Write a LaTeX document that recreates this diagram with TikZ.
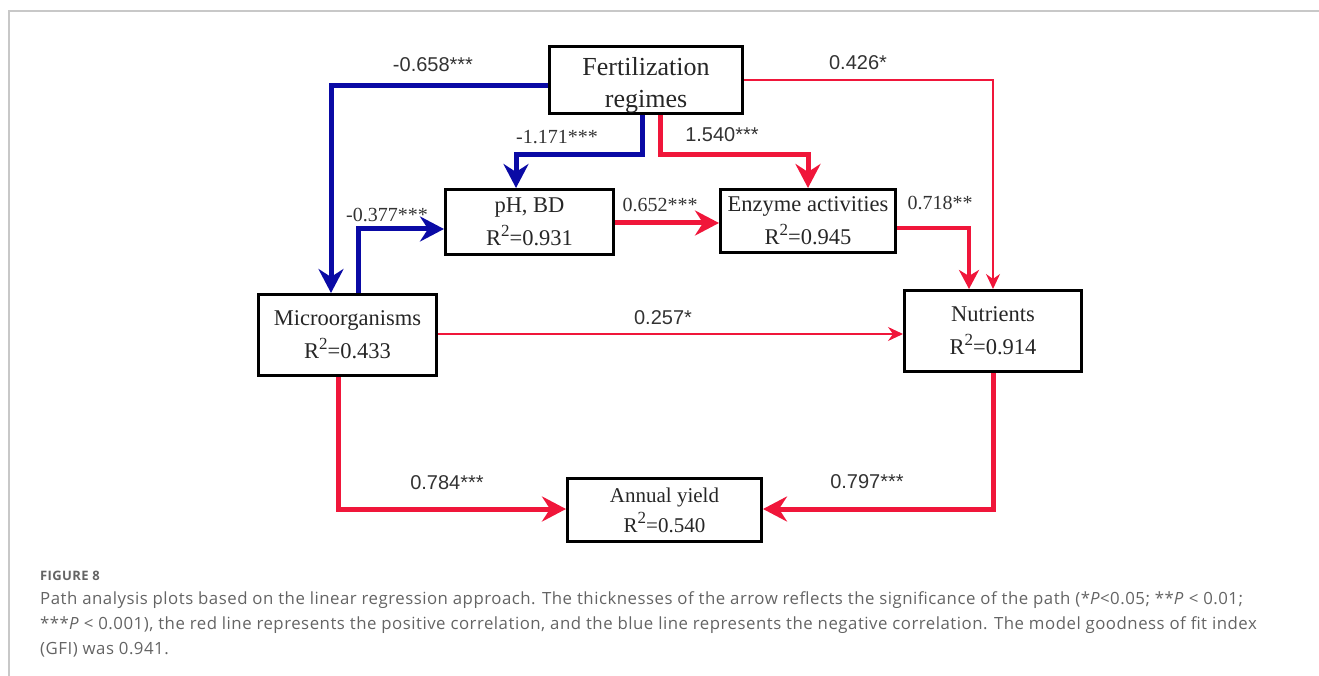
\documentclass[tikz,border=0pt]{standalone}
\usepackage{fontspec}
\setmainfont{Liberation Serif}
\setsansfont{Liberation Sans}
\newfontfamily\capfont[LetterSpace=3]{Open Sans}
\usetikzlibrary{arrows.meta}
\definecolor{negblue}{RGB}{10,10,165}
\definecolor{posred}{RGB}{240,22,58}
\definecolor{framegray}{RGB}{200,200,200}
\definecolor{capgray}{RGB}{100,100,100}
\newcommand{\Rsq}[1]{R\raisebox{0.42em}{\fontsize{17pt}{17pt}\selectfont 2}=#1}

\begin{document}
\begin{tikzpicture}[x=1pt,y=-1pt]
  \tikzset{box/.style={draw,line width=3pt,align=center,inner sep=0pt,text=black!85,
      font={\fontsize{22.5pt}{33pt}\selectfont}},
    coef/.style={font={\sffamily\fontsize{20pt}{20pt}\selectfont},text=black!80},
    scoef/.style={font={\fontsize{20pt}{20pt}\selectfont},text=black!80},
    strongarr/.style={line width=5pt,-{Stealth[length=24pt,width=25pt,inset=8pt]}},
    midarr/.style={line width=3.5pt,-{Stealth[length=19pt,width=20pt,inset=6pt]}},
    weakarr/.style={line width=1.6pt,-{Stealth[length=15pt,width=14pt,inset=5pt]}},
    captext/.style={anchor=west,text=capgray,inner sep=0pt,font={\capfont\fontsize{16.8pt}{20pt}\selectfont}}}
  \useasboundingbox (0,0) rectangle (1319,676);
  \draw[framegray,line width=1.5pt] (9,676) -- (9,11) -- (1319,11);
  % boxes
  \node[box,minimum width=193pt,minimum height=61pt,font={\fontsize{26pt}{32pt}\selectfont}]
    (fert) at (646,80) {\rule{0pt}{29pt}Fertilization\\regimes};
  \node[box,minimum width=168pt,minimum height=65pt] (phbd) at (529.5,222) {pH, BD\\\Rsq{0.931}};
  \node[box,minimum width=175pt,minimum height=63pt] (enzyme) at (808,221) {Enzyme activities\\\Rsq{0.945}};
  \node[box,minimum width=177pt,minimum height=81pt] (nutr) at (993,331) {Nutrients\\\Rsq{0.914}};
  \node[box,minimum width=178pt,minimum height=81pt] (micro) at (347.5,335) {Microorganisms\\\Rsq{0.433}};
  \node[box,minimum width=194pt,minimum height=63pt,font={\fontsize{21pt}{30pt}\selectfont}]
    (yield) at (664.5,510) {Annual yield\\\Rsq{0.540}};
  % paths
  \draw[negblue,strongarr] ([yshift=-6pt]fert.west) -| ([xshift=-16.5pt]micro.north);
  \draw[negblue,strongarr] ([xshift=-4pt]fert.south) -- ++(0,40) -| ([xshift=-13.5pt]phbd.north);
  \draw[posred,strongarr] ([xshift=14pt]fert.south) -- ++(0,40) -| (enzyme.north);
  \draw[posred,weakarr] (fert.east) -| (nutr.north);
  \draw[negblue,strongarr] ([xshift=10.5pt]micro.north) |- ([yshift=-7pt]phbd.west);
  \draw[posred,strongarr] ([yshift=-1pt]phbd.east) -- ([yshift=-2pt]enzyme.west);
  \draw[posred,midarr] ([yshift=-7pt]enzyme.east) -| ([xshift=-24pt]nutr.north);
  \draw[posred,weakarr] ([yshift=1pt]micro.east) -- ([yshift=-3pt]nutr.west);
  \draw[posred,strongarr] ([xshift=-9.5pt]micro.south) |- ([yshift=1pt]yield.west);
  \draw[posred,strongarr] (nutr.south) |- ([yshift=1pt]yield.east);
  % coefficients
  \node[coef] (c658) at (433,65) {-0.658***};
  \node[scoef] (c1171) at (557,137) {-1.171***};
  \node[coef] (c1540) at (722,135) {1.540***};
  \node[coef] (c426) at (858,63) {0.426*};
  \node[scoef] (c377) at (387,215) {-0.377***};
  \node[scoef] (c652) at (660,205) {0.652***};
  \node[scoef] (c718) at (940,203) {0.718**};
  \node[coef] (c257) at (663,318) {0.257*};
  \node[coef] (c784) at (447,483) {0.784***};
  \node[coef] (c797) at (867,482) {0.797***};
  % caption
  \node[captext,font={\capfont\bfseries\fontsize{13pt}{13pt}\selectfont}] (fig) at (40,576) {FIGURE 8};
  \node[captext] (cap1) at (40,600) {Path analysis plots based on the linear regression approach. The thicknesses of the arrow reflects the significance of the path (*\textit{P}<0.05; **\textit{P} < 0.01;};
  \node[captext] (cap2) at (40,625) {***\textit{P} < 0.001), the red line represents the positive correlation, and the blue line represents the negative correlation. The model goodness of fit index};
  \node[captext] (cap3) at (40,650) {(GFI) was 0.941.};
\end{tikzpicture}
\end{document}
